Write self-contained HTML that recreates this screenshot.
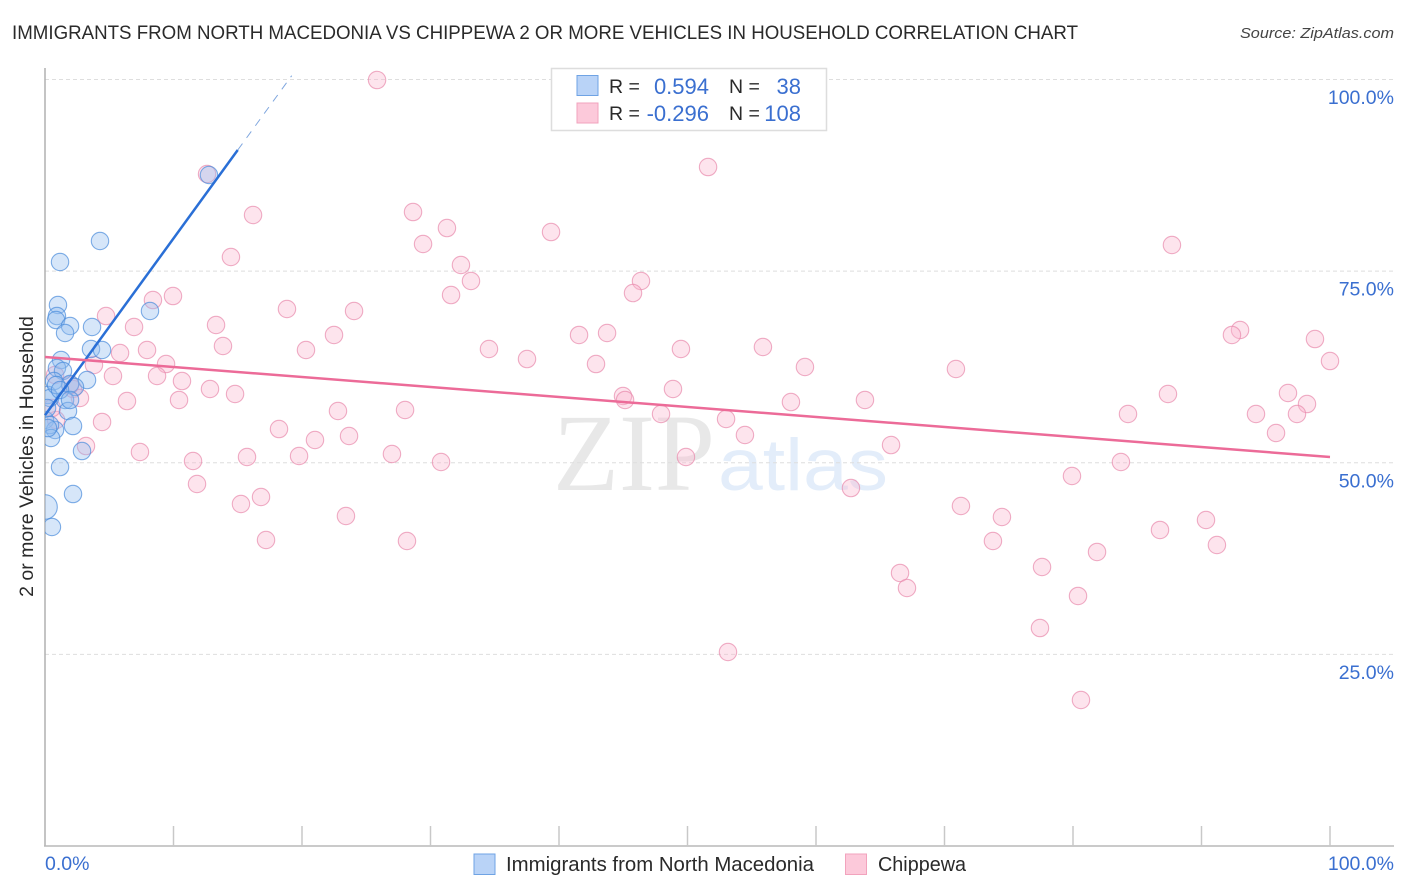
<!DOCTYPE html>
<html lang="en">
<head>
<meta charset="utf-8">
<title>Immigrants from North Macedonia vs Chippewa correlation chart</title>
<style>
html,body{margin:0;padding:0;background:#fff;width:1406px;height:892px;overflow:hidden}
svg{display:block;font-family:"Liberation Sans",sans-serif}
</style>
</head>
<body>
<svg id="chart" width="1406" height="892" viewBox="0 0 1406 892" xmlns="http://www.w3.org/2000/svg">
  <defs><clipPath id="plot-clip"><rect x="45" y="60" width="1349" height="786"/></clipPath></defs>
  <text x="12" y="39" font-size="19.5" fill="#2a2a2a" textLength="1066" lengthAdjust="spacingAndGlyphs">IMMIGRANTS FROM NORTH MACEDONIA VS CHIPPEWA 2 OR MORE VEHICLES IN HOUSEHOLD CORRELATION CHART</text>
  <text x="1394" y="38" font-size="15" font-style="italic" fill="#444" text-anchor="end" textLength="154" lengthAdjust="spacingAndGlyphs">Source: ZipAtlas.com</text>
  <g id="watermark">
    <text x="553" y="490" font-family="'Liberation Serif',serif" font-size="110" fill="#e8e8e8" textLength="162" lengthAdjust="spacingAndGlyphs">ZIP</text>
    <text x="718" y="490" font-size="73" fill="#e3edfa" textLength="170" lengthAdjust="spacingAndGlyphs">atlas</text>
  </g>
  <g id="grid"></g>
  <g id="axes"></g>
  <g id="points-pink" clip-path="url(#plot-clip)"></g>
  <g id="points-blue" clip-path="url(#plot-clip)"></g>
  <g id="lines"></g>
  <text transform="translate(33,456.5) rotate(-90)" font-size="19.5" fill="#2a2a2a" text-anchor="middle">2 or more Vehicles in Household</text>

  <g>
    <rect x="551.5" y="68.5" width="275" height="62" fill="#fff" stroke="#ddd" stroke-width="1.5"/>
    <rect x="577" y="75.5" width="21" height="20" fill="#b9d3f7" stroke="#6fa3e4" stroke-width="1"/>
    <rect x="577" y="103" width="21" height="20" fill="#fcc9da" stroke="#f2a3bd" stroke-width="1"/>
    <text x="609" y="93" font-size="19.5" fill="#2a2a2a">R =</text>
    <text x="609" y="120" font-size="19.5" fill="#2a2a2a">R =</text>
    <text x="709" y="94" font-size="22" fill="#3a6fd0" text-anchor="end">0.594</text>
    <text x="709" y="121" font-size="22" fill="#3a6fd0" text-anchor="end">-0.296</text>
    <text x="729" y="93" font-size="19.5" fill="#2a2a2a">N =</text>
    <text x="729" y="120" font-size="19.5" fill="#2a2a2a">N =</text>
    <text x="801" y="94" font-size="22" fill="#3a6fd0" text-anchor="end">38</text>
    <text x="801" y="121" font-size="22" fill="#3a6fd0" text-anchor="end">108</text>
  </g>

  <g>
    <rect x="474" y="854" width="21" height="20.5" fill="#b9d3f7" stroke="#6fa3e4" stroke-width="1"/>
    <text x="506" y="871" font-size="20" fill="#2a2a2a" textLength="308" lengthAdjust="spacingAndGlyphs">Immigrants from North Macedonia</text>
    <rect x="845.5" y="854" width="21" height="20.5" fill="#fcc9da" stroke="#f2a3bd" stroke-width="1"/>
    <text x="878" y="871" font-size="20" fill="#2a2a2a" textLength="88" lengthAdjust="spacingAndGlyphs">Chippewa</text>
  </g>
</svg>
<script>
const blueX = [12.76,4.28,1.17,1.01,0.93,0.86,1.95,1.56,3.66,8.17,3.58,4.44,1.25,0.93,1.40,3.27,0.70,1.95,2.33,0.23,1.56,1.79,0,2.18,0.78,0.39,0.47,2.88,1.17,2.18,0,0.54,0.39,0.86,0.16,1.17,1.95,0.23];
const blueY = [87.54,78.93,76.19,70.58,69.14,68.62,67.84,66.93,67.71,69.80,64.84,64.71,63.40,62.36,61.97,60.79,60.66,60.27,59.88,58.84,58.19,56.75,55.58,54.79,54.27,54.92,53.23,51.53,49.44,45.92,44.23,41.62,58.45,60.14,57.14,59.49,58.19,54.53];
const pinkX = [25.84,51.6,16.19,28.64,31.28,29.42,39.38,14.47,87.70,32.37,33.15,46.38,31.60,45.76,9.96,8.40,18.83,24.05,4.75,6.93,13.31,22.49,93.0,92.37,41.56,43.74,98.83,13.85,7.94,5.84,20.31,34.55,49.49,55.87,100,37.51,42.88,9.42,3.81,59.14,70.89,5.29,8.72,10.66,0.78,48.87,12.84,87.39,96.73,14.79,2.18,2.72,6.38,10.43,44.98,45.14,58.05,63.81,98.21,22.80,28.02,47.94,84.28,94.24,97.43,53.0,18.21,4.44,23.66,54.47,95.80,21.01,3.19,65.84,27.0,7.39,19.77,15.72,49.88,83.73,11.52,30.82,79.92,11.83,62.72,16.81,15.25,71.28,23.42,74.47,90.35,86.77,17.20,28.17,73.77,91.2,81.87,77.59,66.54,67.08,80.39,77.43,53.15,80.62,12.61,0.86,0.54,1.95];
const pinkY = [99.93,88.58,82.32,82.71,80.62,78.54,80.10,76.84,78.41,75.80,73.71,73.71,71.88,72.14,71.75,71.23,70.06,69.80,69.14,67.71,67.97,66.67,67.32,66.67,66.67,66.93,66.14,65.23,64.71,64.32,64.71,64.84,64.84,65.10,63.27,63.53,62.88,62.88,62.75,62.49,62.23,61.32,61.32,60.66,61.45,59.62,59.62,58.97,59.10,58.97,59.62,58.45,58.05,58.19,58.71,58.19,57.92,58.19,57.66,56.75,56.88,56.36,56.36,56.36,56.36,55.71,54.40,55.32,53.49,53.62,53.88,52.97,52.18,52.31,51.14,51.40,50.88,50.75,50.75,50.10,50.23,50.10,48.27,47.23,46.70,45.53,44.62,44.36,43.05,42.92,42.53,41.23,39.92,39.79,39.79,39.27,38.36,36.40,35.62,33.66,32.62,28.44,25.31,19.05,87.67,55.58,57.14,60.14];
const blueWeights = [1,1,1,1,1,1,1,1,1,1,1,1,1,1,1,1,1,1,1,1,1,1,1,1,1,1,1,1,1,1,2,1,1,1,1,1,1,1];
const blueTrend = [56.2, 90.8, 100.5];
const blueTrendX = [0, 15, 19.2];
const pinkTrend = [63.8, 50.75];
const pinkTrendX = [0, 100];
const yTicks = [100, 75, 50, 25];
const yTickLabels = ["100.0%", "75.0%", "50.0%", "25.0%"];
const xTicks = [0, 10, 20, 30, 40, 50, 60, 70, 80, 90, 100];
const xEndLabels = ["0.0%", "100.0%"];

const NS = "http://www.w3.org/2000/svg";
function xScale(v){ return 45 + v * 12.85; }
function yScale(v){ return 846 - v * 7.665; }
function make(tag, attrs, parent){
  const el = document.createElementNS(NS, tag);
  for (const k in attrs) el.setAttribute(k, attrs[k]);
  parent.appendChild(el);
  return el;
}

const gridLayer = document.getElementById("grid");
const axesLayer = document.getElementById("axes");
yTicks.forEach(function(t, i){
  const line = make("line", {x1:45, x2:1394, y1:yScale(t), y2:yScale(t), stroke:"#dedede", "stroke-width":1, "stroke-dasharray":"4 3"}, gridLayer);
  
  
  const label = make("text", {x:1394, y:yScale(t) + 24.5, "font-size":19.5, fill:"#3a6fd0", "text-anchor":"end"}, axesLayer);
  label.textContent = yTickLabels[i];
  
  
});

const yAxis = make("line", {x1:45, x2:45, y1:68, y2:846, stroke:"#b0b0b0", "stroke-width":1.5}, axesLayer);


const xAxis = make("line", {x1:44, x2:1394, y1:846, y2:846, stroke:"#b8b8b8", "stroke-width":1.5}, axesLayer);


xTicks.forEach(function(t){
  if (t === 0) return;
  const tick = make("line", {x1:xScale(t), x2:xScale(t), y1:826, y2:846, stroke:"#c8c8c8", "stroke-width":1.5}, axesLayer);
  
  
});
const xLabelLeft = make("text", {x:xScale(0), y:870, "font-size":19.5, fill:"#3a6fd0"}, axesLayer);
xLabelLeft.textContent = xEndLabels[0];


const xLabelRight = make("text", {x:1394, y:870, "font-size":19.5, fill:"#3a6fd0", "text-anchor":"end"}, axesLayer);
xLabelRight.textContent = xEndLabels[1];



const pinkLayer = document.getElementById("points-pink");
pinkX.forEach(function(v, i){
  const c = make("circle", {cx:xScale(v), cy:yScale(pinkY[i]), r:8.7, fill:"#f9b8cf", "fill-opacity":0.38, stroke:"#e88aac", "stroke-opacity":0.7, "stroke-width":1.1}, pinkLayer);
  
  
});
const blueLayer = document.getElementById("points-blue");
blueX.forEach(function(v, i){
  const c = make("circle", {cx:xScale(v), cy:yScale(blueY[i]), r:8.7 * Math.sqrt(blueWeights[i]), fill:"#94bdf0", "fill-opacity":0.38, stroke:"#4a8bdc", "stroke-opacity":0.7, "stroke-width":1.1}, blueLayer);
  
  
});

const lineLayer = document.getElementById("lines");
const blueSolid = make("line", {x1:xScale(blueTrendX[0]), y1:yScale(blueTrend[0]), x2:xScale(blueTrendX[1]), y2:yScale(blueTrend[1]), stroke:"#2a6fd6", "stroke-width":2.5}, lineLayer);


const blueDash = make("line", {x1:xScale(blueTrendX[1]), y1:yScale(blueTrend[1]), x2:xScale(blueTrendX[2]), y2:yScale(blueTrend[2]), stroke:"#7fa6de", "stroke-width":1, "stroke-dasharray":"8 7"}, lineLayer);


const pinkLine = make("line", {x1:xScale(pinkTrendX[0]), y1:yScale(pinkTrend[0]), x2:xScale(pinkTrendX[1]), y2:yScale(pinkTrend[1]), stroke:"#ec6b98", "stroke-width":2.5}, lineLayer);


</script>
</body>
</html>
